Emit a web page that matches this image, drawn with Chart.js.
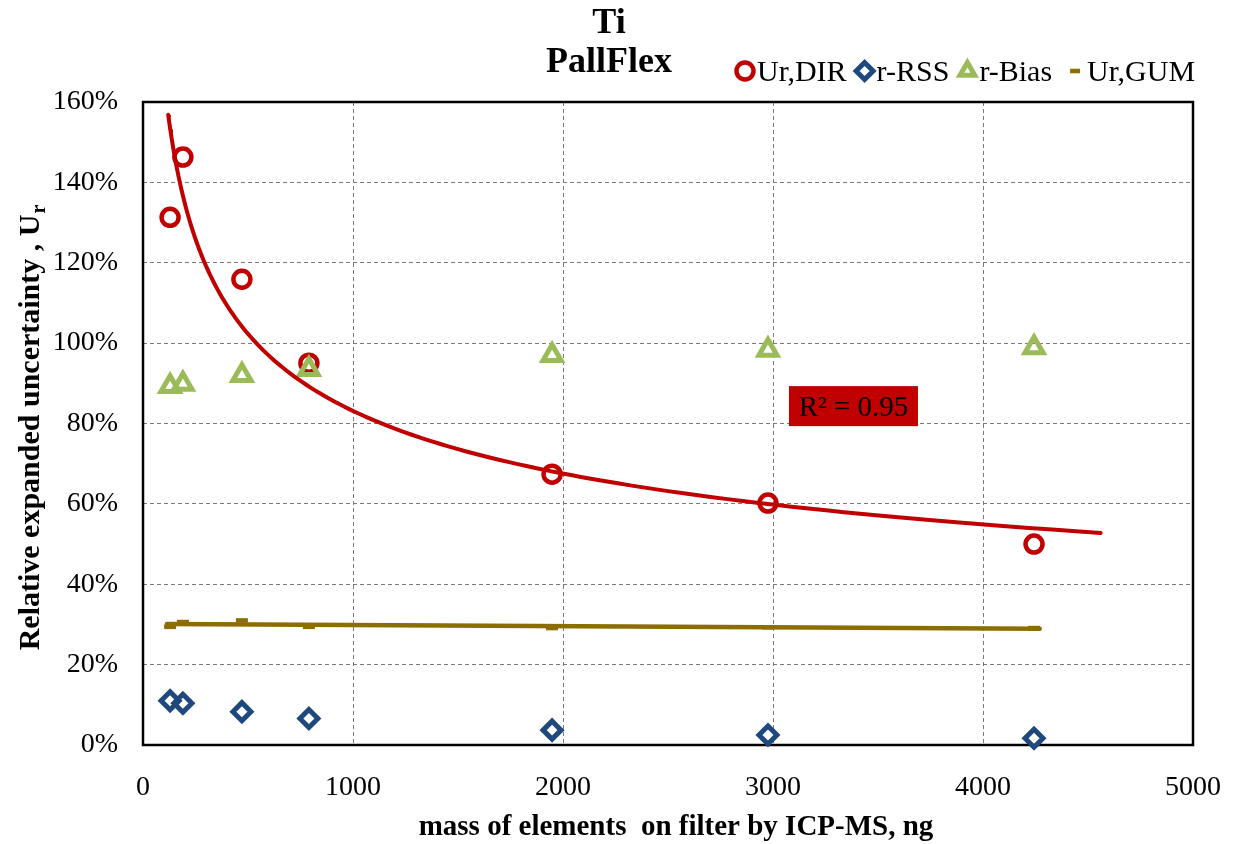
<!DOCTYPE html>
<html>
<head>
<meta charset="utf-8">
<title>Ti PallFlex</title>
<script src="https://cdn.jsdelivr.net/npm/chart.js@4/dist/chart.umd.min.js"></script>
<style>
  html, body { margin: 0; padding: 0; background: #ffffff; }
  #wrap { width: 1236px; height: 844px; }
</style>
</head>
<body>
<div id="wrap"><canvas id="c" width="1236" height="844"></canvas></div>
<script>
// ---- data (mass in ng, uncertainties in %) ----
const massNg = [129, 190, 471, 790, 1948, 2976, 4243];
const urDir  = [131.3, 146.3, 115.9, 95.0, 67.4, 60.2, 50.0];
const rRss   = [11.0, 10.4, 8.3, 6.6, 3.7, 2.5, 1.7];
const rBias  = [89.3, 89.8, 92.0, 93.5, 97.0, 98.3, 98.9];
const urGum  = [29.4, 30.6, 31.0, 29.4, 29.1, 29.3, 29.1];

const seriesNames = ['Ur,DIR', 'r-RSS', 'r-Bias', 'Ur,GUM'];
const xTickValues = [0, 1000, 2000, 3000, 4000, 5000];
const yTickValues = [0, 20, 40, 60, 80, 100, 120, 140, 160];
const titleLines  = ['Ti', 'PallFlex'];
const xAxisTitle  = 'mass of elements  on filter by ICP-MS, ng';
const yAxisTitle  = 'Relative expanded uncertainty , U';
const yAxisSub    = 'r';

// span (ng) over which each trendline is drawn
const dirTrendSpan = [120, 4560];
const gumTrendSpan = [114, 4270];
// where the R² box sits (data units: ng, %)
const r2BoxAnchor = { x: 3076, y: 89.3 };

const RED = '#C00000', BLUE = '#1F497D', GREEN = '#9BBB59', GOLD = '#8C6D00';
const SERIF = '"Liberation Serif", "Times New Roman", serif';

// ---- trendlines (least squares, as a spreadsheet would fit them) ----
function powerFit(xs, ys) {
  const lx = xs.map(Math.log), ly = ys.map(Math.log), n = xs.length;
  const mx = lx.reduce((s, v) => s + v, 0) / n, my = ly.reduce((s, v) => s + v, 0) / n;
  let sxy = 0, sxx = 0, syy = 0;
  for (let i = 0; i < n; i++) {
    sxy += (lx[i] - mx) * (ly[i] - my);
    sxx += (lx[i] - mx) ** 2;
    syy += (ly[i] - my) ** 2;
  }
  const b = sxy / sxx;
  return { a: Math.exp(my - b * mx), b: b, r2: (sxy * sxy) / (sxx * syy) };
}
function linearFit(xs, ys) {
  const n = xs.length;
  const mx = xs.reduce((s, v) => s + v, 0) / n, my = ys.reduce((s, v) => s + v, 0) / n;
  let sxy = 0, sxx = 0;
  for (let i = 0; i < n; i++) { sxy += (xs[i] - mx) * (ys[i] - my); sxx += (xs[i] - mx) ** 2; }
  const m = sxy / sxx;
  return { m: m, c: my - m * mx };
}
const dirFit = powerFit(massNg, urDir);
const gumFit = linearFit(massNg, urGum);

const dirCurve = [];
{
  const steps = 140, l0 = Math.log(dirTrendSpan[0]), l1 = Math.log(dirTrendSpan[1]);
  for (let i = 0; i <= steps; i++) {
    const x = Math.exp(l0 + (l1 - l0) * i / steps);
    dirCurve.push({ x: x, y: dirFit.a * Math.pow(x, dirFit.b) });
  }
}
const gumLine = gumTrendSpan.map(x => ({ x: x, y: gumFit.m * x + gumFit.c }));

const pts = ys => massNg.map((x, i) => ({ x: x, y: ys[i] }));

const markerSets = [
  { label: seriesNames[0], data: pts(urDir), pointStyle: 'circle', pointRadius: 8.5, pointBorderWidth: 4.5,
    borderColor: RED, pointBorderColor: RED, order: 4 },
  { label: seriesNames[1], data: pts(rRss), pointStyle: 'rectRot', pointRadius: 9, pointBorderWidth: 5,
    borderColor: BLUE, pointBorderColor: BLUE, order: 3 },
  { label: seriesNames[2], data: pts(rBias), pointStyle: 'triangle', pointRadius: 10.5, pointBorderWidth: 5,
    borderColor: GREEN, pointBorderColor: GREEN, order: 2 },
  { label: seriesNames[3], data: pts(urGum), pointStyle: 'line', pointRadius: 6, pointBorderWidth: 4.5,
    borderColor: GOLD, pointBorderColor: GOLD, order: 3 }
].map(d => Object.assign(d, {
  showLine: false, backgroundColor: 'rgba(0,0,0,0)', pointBackgroundColor: 'rgba(0,0,0,0)', clip: false
}));

const trendSets = [
  { label: 'dir-trend', data: dirCurve, borderColor: RED, borderWidth: 4 },
  { label: 'gum-trend', data: gumLine, borderColor: GOLD, borderWidth: 4.5 }
].map(d => Object.assign(d, {
  showLine: true, pointRadius: 0, fill: false, tension: 0, order: 0, clip: false, borderCapStyle: 'round'
}));

// frame around the plot area, drawn under the markers
const framePlugin = {
  id: 'frame',
  beforeDatasetsDraw(chart) {
    const { ctx, chartArea: a } = chart;
    ctx.save();
    ctx.strokeStyle = '#000';
    ctx.lineWidth = 2.5;
    ctx.strokeRect(a.left, a.top, a.right - a.left, a.bottom - a.top);
    ctx.restore();
  }
};

// titles, legend and the R² box
const decorPlugin = {
  id: 'decor',
  afterDraw(chart) {
    const { ctx, scales } = chart;
    ctx.save();
    ctx.fillStyle = '#000';

    // chart title
    ctx.font = 'bold 36px ' + SERIF;
    ctx.textAlign = 'center';
    ctx.textBaseline = 'alphabetic';
    ctx.fillText(titleLines[0], 609, 33);
    ctx.fillText(titleLines[1], 609, 72);

    // x axis title
    ctx.font = 'bold 29px ' + SERIF;
    ctx.fillText(xAxisTitle, 676, 835);

    // y axis title with subscript
    ctx.save();
    ctx.translate(39, 428);
    ctx.rotate(-Math.PI / 2);
    ctx.font = 'bold 30px ' + SERIF;
    const wMain = ctx.measureText(yAxisTitle).width;
    ctx.font = 'bold 20px ' + SERIF;
    const wSub = ctx.measureText(yAxisSub).width;
    const x0 = -(wMain + wSub) / 2;
    ctx.textAlign = 'left';
    ctx.font = 'bold 30px ' + SERIF;
    ctx.fillText(yAxisTitle, x0, 0);
    ctx.font = 'bold 20px ' + SERIF;
    ctx.fillText(yAxisSub, x0 + wMain + 1, 6);
    ctx.restore();

    // legend
    ctx.font = '30px ' + SERIF;
    ctx.textAlign = 'left';
    let lx = 734;
    const ly = 71;
    markerSets.forEach((ds, i) => {
      ctx.save();
      ctx.strokeStyle = ds.pointBorderColor;
      ctx.fillStyle = 'rgba(0,0,0,0)';
      ctx.lineWidth = ds.pointBorderWidth;
      Chart.helpers.drawPoint(ctx, {
        pointStyle: ds.pointStyle,
        radius: ds.pointStyle === 'line' ? 5 : Math.min(ds.pointRadius, 8.5),
        borderWidth: ds.pointBorderWidth, rotation: 0
      }, lx + 11, ly);
      ctx.restore();
      ctx.fillStyle = '#000';
      ctx.fillText(ds.label, lx + 23, 81);
      lx += 23 + ctx.measureText(ds.label).width + (i === 2 ? 12 : 7);
    });

    // R² box for the power trendline
    const bx = scales.x.getPixelForValue(r2BoxAnchor.x);
    const by = scales.y.getPixelForValue(r2BoxAnchor.y);
    ctx.fillStyle = RED;
    ctx.fillRect(bx, by, 129, 40);
    ctx.fillStyle = '#000';
    ctx.font = '29px ' + SERIF;
    ctx.textAlign = 'center';
    ctx.fillText('R\u00B2 = ' + dirFit.r2.toFixed(2), bx + 64.5, by + 30);
    ctx.restore();
  }
};

new Chart(document.getElementById('c'), {
  type: 'scatter',
  data: { datasets: markerSets.concat(trendSets) },
  options: {
    responsive: false,
    animation: false,
    events: [],
    layout: { padding: { left: 0, top: 102, right: 43, bottom: 0 } },
    plugins: { legend: { display: false }, tooltip: { enabled: false }, title: { display: false } },
    scales: {
      x: {
        type: 'linear', min: 0, max: 5000,
        afterBuildTicks: s => { s.ticks = xTickValues.map(v => ({ value: v })); },
        afterFit: s => { s.height = 99; s.paddingLeft = 0; s.paddingRight = 0; },
        ticks: { color: '#000', font: { family: SERIF, size: 28 }, padding: 26, maxRotation: 0,
                 callback: v => String(v) },
        grid: { color: '#7a7a7a', lineWidth: 1, drawTicks: false },
        border: { display: false, dash: [4, 3] }
      },
      y: {
        type: 'linear', min: 0, max: 160,
        afterBuildTicks: s => { s.ticks = yTickValues.map(v => ({ value: v })); },
        afterFit: s => { s.width = 143; s.paddingTop = 0; s.paddingBottom = 0; },
        ticks: { color: '#000', font: { family: SERIF, size: 28 }, padding: 25,
                 callback: v => v + '%' },
        grid: { color: '#7a7a7a', lineWidth: 1, drawTicks: false },
        border: { display: false, dash: [4, 3] }
      }
    }
  },
  plugins: [framePlugin, decorPlugin]
});
</script>
</body>
</html>
